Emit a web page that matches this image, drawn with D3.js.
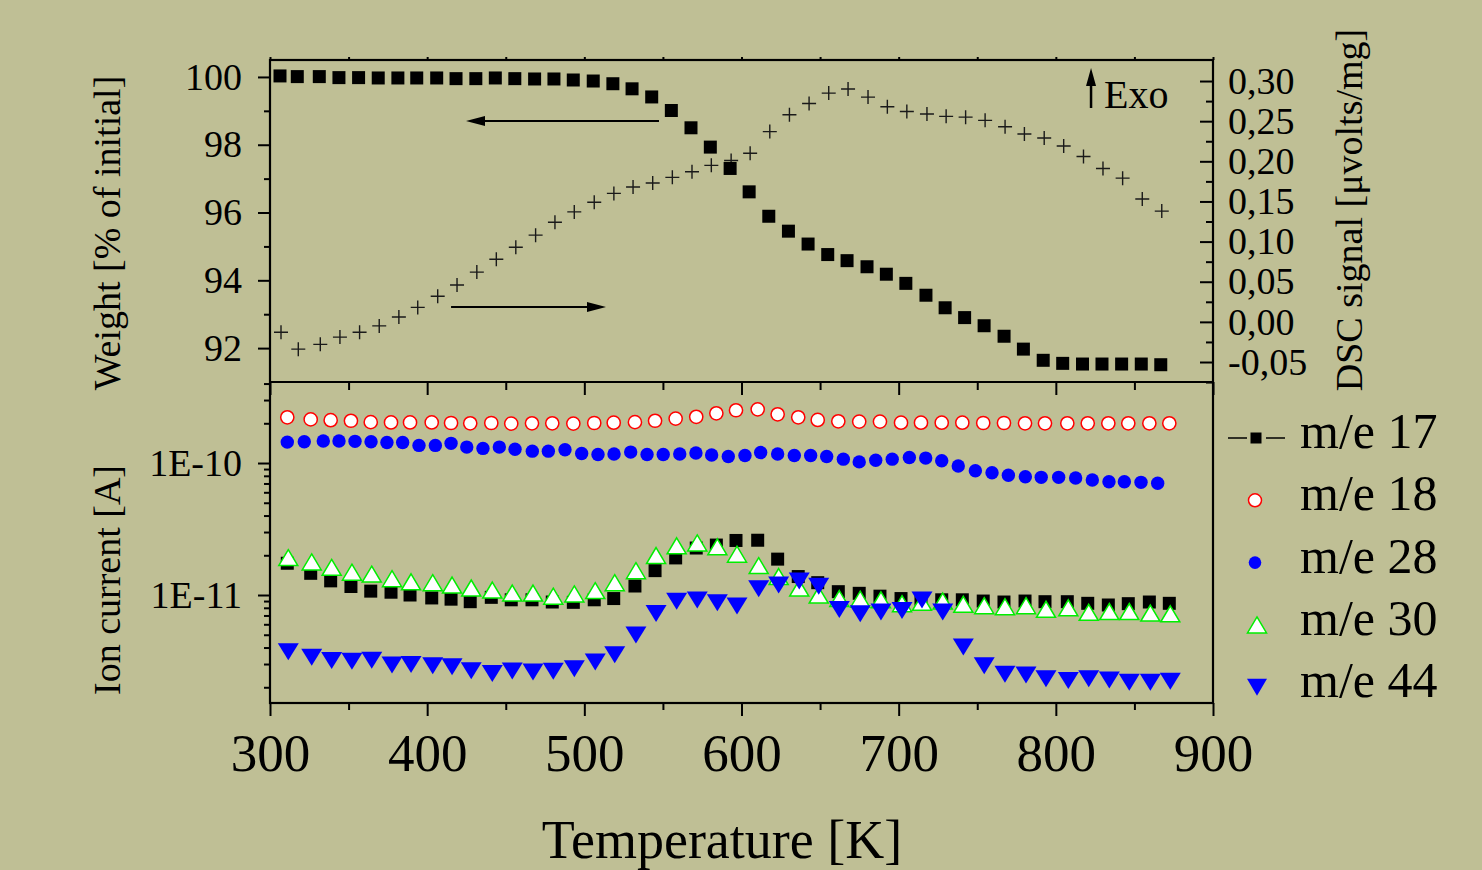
<!DOCTYPE html>
<html>
<head>
<meta charset="utf-8">
<script src="https://cdn.jsdelivr.net/npm/d3@7/dist/d3.min.js"></script>
<style>
  html, body { margin: 0; padding: 0; background: #bfbf95; }
  svg { display: block; }
  text { font-family: "Liberation Serif", "Times New Roman", serif; fill: #000; }
</style>
</head>
<body>
<svg id="chart" width="1482" height="870"></svg>
<script>
// ---------------- DATA ----------------
// Top panel (TG / DSC)
const tempTop = [307, 318, 332, 344.5, 357, 369.5, 382, 394, 406.7, 419, 431.6, 444, 456.4, 469, 481.3, 493.6, 506.3, 518.8, 531, 543.5, 556, 568.5, 580.8, 593.4, 605.5, 618, 630.5, 643, 655.5, 667.8, 680.5, 692.8, 705.2, 718, 730.2, 742.6, 755, 767.7, 780, 792.6, 805, 817.6, 830, 842.5, 855, 867.4];
const weight = [100.03, 100.01, 100.01, 99.98, 99.98, 99.97, 99.97, 99.97, 99.97, 99.95, 99.95, 99.97, 99.95, 99.94, 99.94, 99.91, 99.88, 99.80, 99.65, 99.41, 99.01, 98.50, 97.93, 97.30, 96.61, 95.89, 95.45, 95.07, 94.76, 94.58, 94.40, 94.18, 93.91, 93.56, 93.19, 92.90, 92.66, 92.35, 91.97, 91.64, 91.55, 91.53, 91.53, 91.53, 91.53, 91.51];
const dsc = [-0.013, -0.034, -0.028, -0.019, -0.013, -0.005, 0.006, 0.018, 0.032, 0.046, 0.062, 0.078, 0.093, 0.108, 0.124, 0.137, 0.149, 0.160, 0.168, 0.173, 0.180, 0.187, 0.195, 0.201, 0.210, 0.237, 0.258, 0.272, 0.285, 0.290, 0.280, 0.268, 0.262, 0.259, 0.256, 0.255, 0.251, 0.243, 0.234, 0.229, 0.219, 0.206, 0.191, 0.179, 0.153, 0.138];

// Bottom panel (mass spectrometry)
const tempMS = [311.0, 325.9, 338.6, 351.5, 364.1, 377.0, 389.1, 402.9, 415.2, 427.4, 440.8, 453.5, 466.7, 479.6, 493.0, 506.3, 518.7, 532.2, 545.0, 558.1, 571.2, 584.0, 596.5, 610.3, 623.0, 636.1, 648.5, 661.6, 674.9, 688.1, 701.5, 714.2, 727.4, 740.5, 753.8, 767.0, 780.4, 793.1, 807.3, 820.3, 833.4, 846.1, 859.5, 872.2];
const me17 = [1.74e-11, 1.46e-11, 1.28e-11, 1.16e-11, 1.07e-11, 1.05e-11, 1.0e-11, 9.5e-12, 9.3e-12, 8.9e-12, 9.6e-12, 9.2e-12, 9.2e-12, 8.85e-12, 8.8e-12, 9.2e-12, 9.4e-12, 1.17e-11, 1.53e-11, 1.91e-11, 2.27e-11, 2.39e-11, 2.59e-11, 2.6e-11, 1.87e-11, 1.38e-11, 1.24e-11, 1.06e-11, 1.03e-11, 9.8e-12, 9.4e-12, 9.3e-12, 9.2e-12, 9.2e-12, 9.0e-12, 8.85e-12, 9.0e-12, 8.9e-12, 8.9e-12, 8.65e-12, 8.4e-12, 8.6e-12, 8.85e-12, 8.65e-12];
const me18 = [2.22e-10, 2.14e-10, 2.11e-10, 2.09e-10, 2.04e-10, 2.03e-10, 2.03e-10, 2.03e-10, 2.01e-10, 2.0e-10, 2.01e-10, 1.99e-10, 2.0e-10, 2.0e-10, 1.99e-10, 2.01e-10, 2.02e-10, 2.04e-10, 2.09e-10, 2.17e-10, 2.24e-10, 2.38e-10, 2.51e-10, 2.55e-10, 2.34e-10, 2.22e-10, 2.12e-10, 2.07e-10, 2.06e-10, 2.06e-10, 2.02e-10, 2.02e-10, 2.02e-10, 2.02e-10, 2.01e-10, 2.01e-10, 2.0e-10, 2.0e-10, 2.0e-10, 2.0e-10, 2.0e-10, 2.0e-10, 2.0e-10, 2.0e-10];
const me30 = [1.92e-11, 1.78e-11, 1.62e-11, 1.49e-11, 1.44e-11, 1.33e-11, 1.26e-11, 1.24e-11, 1.19e-11, 1.13e-11, 1.09e-11, 1.035e-11, 1.035e-11, 9.8e-12, 1.02e-11, 1.08e-11, 1.24e-11, 1.53e-11, 1.99e-11, 2.36e-11, 2.48e-11, 2.32e-11, 2.04e-11, 1.67e-11, 1.38e-11, 1.13e-11, 1.0e-11, 9.4e-12, 9.3e-12, 9.2e-12, 8.6e-12, 8.8e-12, 9.0e-12, 8.5e-12, 8.3e-12, 8.15e-12, 8.3e-12, 7.8e-12, 8.0e-12, 7.4e-12, 7.5e-12, 7.5e-12, 7.3e-12, 7.2e-12];
const me44 = [3.72e-12, 3.38e-12, 3.19e-12, 3.15e-12, 3.21e-12, 2.95e-12, 2.98e-12, 2.91e-12, 2.86e-12, 2.67e-12, 2.54e-12, 2.66e-12, 2.61e-12, 2.64e-12, 2.76e-12, 3.11e-12, 3.53e-12, 4.98e-12, 7.24e-12, 8.97e-12, 9.17e-12, 8.73e-12, 8.25e-12, 1.116e-11, 1.191e-11, 1.277e-11, 1.166e-11, 7.77e-12, 7.2e-12, 7.43e-12, 7.63e-12, 9.17e-12, 7.43e-12, 4.04e-12, 2.91e-12, 2.51e-12, 2.48e-12, 2.32e-12, 2.25e-12, 2.32e-12, 2.27e-12, 2.18e-12, 2.18e-12, 2.22e-12];
const tempMe28 = [311.0, 321.8, 333.9, 343.9, 354.1, 364.3, 374.4, 384.4, 394.8, 405.2, 415.2, 425.2, 435.5, 445.9, 455.9, 466.9, 477.1, 487.7, 498.3, 508.7, 518.9, 529.5, 539.9, 550.2, 560.7, 571.0, 581.0, 591.6, 602.2, 612.2, 623.0, 633.6, 644.0, 654.2, 664.8, 674.9, 685.4, 695.9, 706.8, 717.2, 727.4, 737.9, 748.8, 759.4, 769.8, 780.6, 790.7, 801.8, 812.6, 823.2, 833.8, 843.6, 854.2, 864.8];
const me28 = [1.44e-10, 1.45e-10, 1.47e-10, 1.47e-10, 1.46e-10, 1.45e-10, 1.43e-10, 1.43e-10, 1.36e-10, 1.36e-10, 1.41e-10, 1.32e-10, 1.29e-10, 1.32e-10, 1.27e-10, 1.23e-10, 1.23e-10, 1.26e-10, 1.18e-10, 1.16e-10, 1.17e-10, 1.21e-10, 1.16e-10, 1.16e-10, 1.17e-10, 1.19e-10, 1.15e-10, 1.12e-10, 1.14e-10, 1.20e-10, 1.17e-10, 1.14e-10, 1.14e-10, 1.12e-10, 1.07e-10, 1.02e-10, 1.05e-10, 1.07e-10, 1.10e-10, 1.09e-10, 1.04e-10, 9.49e-11, 8.74e-11, 8.44e-11, 8.07e-11, 7.87e-11, 7.79e-11, 7.79e-11, 7.70e-11, 7.43e-11, 7.22e-11, 7.22e-11, 7.14e-11, 7.02e-11];

// Tick values / labels
const xMajorTicks = [300, 400, 500, 600, 700, 800, 900];
const xMinorTicks = [350, 450, 550, 650, 750, 850];
const weightTicks = [92, 94, 96, 98, 100];
const weightMinorTicks = [93, 95, 97, 99];
const dscTicks = [-0.05, 0.00, 0.05, 0.10, 0.15, 0.20, 0.25, 0.30];
const dscMinorTicks = [-0.075, -0.025, 0.025, 0.075, 0.125, 0.175, 0.225, 0.275];
const ionTicks = [1e-11, 1e-10];
const ionTickLabels = ["1E-11", "1E-10"];
const legendLabels = ["m/e 17", "m/e 18", "m/e 28", "m/e 30", "m/e 44"];

// Annotation arrows (data units)
const weightArrow = { from: 547.5, to: 424.7, value: 98.70 };   // points to left axis
const dscArrow = { from: 415.2, to: 513.8, value: 0.0185 };     // points to right axis
const exoArrow = { t: 822.4, from: 0.2664, to: 0.3162, label: "Exo", labelT: 831.3 };

// ---------------- LAYOUT ----------------
const L = 270, R = 1213, T1 = 60, MID = 382, B2 = 703;
const svg = d3.select("#chart");
svg.append("rect").attr("width", 1482).attr("height", 870).attr("fill", "#bfbf95");

const x = d3.scaleLinear().domain([300, 900]).range([L, R]);
const yW = d3.scaleLinear().domain([91, 100.5]).range([MID, T1]);
const yD = d3.scaleLinear().domain([-0.0749, 0.3262]).range([MID, T1]);
const yI = d3.scaleLog().domain([1.52e-12, 4.11e-10]).range([B2, MID]);

function styleAxis(g, fontSize) {
  g.select(".domain").remove();
  g.selectAll(".tick line").attr("stroke", "#000").attr("stroke-width", 2);
  g.selectAll(".tick text").attr("fill", "#000")
    .style("font-family", '"Liberation Serif", "Times New Roman", serif')
    .style("font-size", fontSize + "px");
}

// ---- X axes ----
svg.append("g").attr("transform", `translate(0,${B2})`)
  .call(d3.axisBottom(x).tickValues(xMajorTicks).tickSize(13).tickPadding(17).tickFormat(d3.format("d")))
  .call(g => styleAxis(g, 53));
svg.append("g").attr("transform", `translate(0,${B2})`)
  .call(d3.axisBottom(x).tickValues(xMinorTicks).tickSize(7).tickFormat(""))
  .call(g => styleAxis(g, 10));
svg.append("g").attr("transform", `translate(0,${MID})`)
  .call(d3.axisBottom(x).tickValues(xMajorTicks).tickSize(13).tickFormat(""))
  .call(g => styleAxis(g, 10));
svg.append("g").attr("transform", `translate(0,${MID})`)
  .call(d3.axisBottom(x).tickValues(xMinorTicks).tickSize(8).tickFormat(""))
  .call(g => styleAxis(g, 10));
svg.append("g").attr("transform", `translate(0,${T1})`)
  .call(d3.axisTop(x).tickValues(xMajorTicks.concat(xMinorTicks)).tickSize(3).tickFormat(""))
  .call(g => styleAxis(g, 10));

// ---- Weight axis (left, top panel) ----
svg.append("g").attr("transform", `translate(${L},0)`)
  .call(d3.axisLeft(yW).tickValues(weightTicks).tickSize(12).tickPadding(16).tickFormat(d3.format("d")))
  .call(g => styleAxis(g, 38));
svg.append("g").attr("transform", `translate(${L},0)`)
  .call(d3.axisLeft(yW).tickValues(weightMinorTicks).tickSize(6).tickFormat(""))
  .call(g => styleAxis(g, 10));

// ---- DSC axis (right, inward ticks) ----
svg.append("g").attr("transform", `translate(${R},0)`)
  .call(d3.axisRight(yD).tickValues(dscTicks).tickSizeInner(-13).tickSizeOuter(0).tickPadding(15)
    .tickFormat(v => v.toFixed(2).replace(".", ",")))
  .call(g => styleAxis(g, 38));
svg.append("g").attr("transform", `translate(${R},0)`)
  .call(d3.axisRight(yD).tickValues(dscMinorTicks).tickSizeInner(-7).tickSizeOuter(0).tickFormat(""))
  .call(g => styleAxis(g, 10));

// ---- Ion current axis (left, log) ----
const ionMinor = [];
[1e-12, 1e-11, 1e-10].forEach(dec => {
  for (let k = 2; k <= 9; k++) {
    const v = k * dec;
    if (v > yI.domain()[0] && v < yI.domain()[1]) ionMinor.push(v);
  }
});
svg.append("g").attr("transform", `translate(${L},0)`)
  .call(d3.axisLeft(yI).tickValues(ionTicks).tickSize(12).tickPadding(16)
    .tickFormat((d, i) => ionTickLabels[i]))
  .call(g => styleAxis(g, 38));
svg.append("g").attr("transform", `translate(${L},0)`)
  .call(d3.axisLeft(yI).tickValues(ionMinor).tickSize(6).tickFormat(""))
  .call(g => styleAxis(g, 10));

// ---- Frame ----
const frame = svg.append("g").attr("stroke", "#000").attr("stroke-width", 2.2).attr("fill", "none");
frame.append("rect").attr("x", L).attr("y", T1).attr("width", R - L).attr("height", B2 - T1);
frame.append("line").attr("x1", L).attr("x2", R).attr("y1", MID).attr("y2", MID);

// ---- Axis titles ----
svg.append("text").attr("transform", `translate(120,233) rotate(-90)`)
  .attr("text-anchor", "middle").style("font-size", "38px").text("Weight [% of initial]");
svg.append("text").attr("transform", `translate(120,580) rotate(-90)`)
  .attr("text-anchor", "middle").style("font-size", "38px").text("Ion current [A]");
svg.append("text").attr("transform", `translate(1362,210) rotate(-90)`)
  .attr("text-anchor", "middle").style("font-size", "38px").text("DSC signal [\u03bcvolts/mg]");
svg.append("text").attr("x", 722).attr("y", 858)
  .attr("text-anchor", "middle").style("font-size", "54px").text("Temperature [K]");

// ---------------- MARKS ----------------
const sq = s => `M${-s/2},${-s/2}h${s}v${s}h${-s}Z`;
const plus = s => `M${-s/2},0H${s/2}M0,${-s/2}V${s/2}`;
const triUp = (w, h) => `M0,${-h/2}L${w/2},${h/2}L${-w/2},${h/2}Z`;
const triDown = (w, h) => `M${-w/2},${-h/2}L${w/2},${-h/2}L0,${h/2}Z`;

svg.append("g").selectAll("path").data(tempTop).join("path")
  .attr("transform", (t, i) => `translate(${x(t)},${yD(dsc[i])})`)
  .attr("d", plus(14)).attr("stroke", "#1a1a1a").attr("stroke-width", 1.4).attr("fill", "none");
svg.append("g").selectAll("path").data(tempTop).join("path")
  .attr("transform", (t, i) => `translate(${x(t) - 1},${yW(weight[i])})`)
  .attr("d", sq(13)).attr("fill", "#000");

svg.append("g").selectAll("path").data(tempMS).join("path")
  .attr("transform", (t, i) => `translate(${x(t)},${yI(me17[i])})`)
  .attr("d", sq(13)).attr("fill", "#000");
svg.append("g").selectAll("circle").data(tempMS).join("circle")
  .attr("cx", t => x(t)).attr("cy", (t, i) => yI(me18[i])).attr("r", 6.6)
  .attr("fill", "#fff").attr("stroke", "#ff0000").attr("stroke-width", 1.5);
svg.append("g").selectAll("circle").data(tempMe28).join("circle")
  .attr("cx", t => x(t)).attr("cy", (t, i) => yI(me28[i])).attr("r", 6.7)
  .attr("fill", "#0000ff");
svg.append("g").selectAll("path").data(tempMS).join("path")
  .attr("transform", (t, i) => `translate(${x(t) + 1},${yI(me30[i])})`)
  .attr("d", triUp(19, 16)).attr("fill", "#fff").attr("stroke", "#00ee00").attr("stroke-width", 1.5);
svg.append("g").selectAll("path").data(tempMS).join("path")
  .attr("transform", (t, i) => `translate(${x(t) + 1},${yI(me44[i])})`)
  .attr("d", triDown(21, 17)).attr("fill", "#0000ff");

// ---------------- ANNOTATIONS ----------------
const ann = svg.append("g");
function hArrow(x1, x2, y) {
  const dir = Math.sign(x2 - x1);
  ann.append("line").attr("x1", x1).attr("x2", x2 - dir * 14).attr("y1", y).attr("y2", y)
    .attr("stroke", "#000").attr("stroke-width", 2);
  ann.append("path").attr("d", `M${x2},${y}L${x2 - dir * 19},${y - 5}L${x2 - dir * 19},${y + 5}Z`).attr("fill", "#000");
}
hArrow(x(weightArrow.from), x(weightArrow.to), yW(weightArrow.value));
hArrow(x(dscArrow.from), x(dscArrow.to), yD(dscArrow.value));
{
  const ex = x(exoArrow.t), y1 = yD(exoArrow.from), y2 = yD(exoArrow.to);
  ann.append("line").attr("x1", ex).attr("x2", ex).attr("y1", y1).attr("y2", y2 + 14)
    .attr("stroke", "#000").attr("stroke-width", 2.5);
  ann.append("path").attr("d", `M${ex},${y2}L${ex - 5},${y2 + 18}L${ex + 5},${y2 + 18}Z`).attr("fill", "#000");
  ann.append("text").attr("x", x(exoArrow.labelT) - 1).attr("y", yD(exoArrow.from))
    .style("font-size", "40px").text(exoArrow.label);
}

// ---------------- LEGEND ----------------
const lg = svg.append("g");
const legX = 1255, legTextX = 1300, legY0 = 448, legDy = 62.3;
legendLabels.forEach((lab, i) => {
  const by = legY0 + i * legDy;
  const sy = by - 10;
  lg.append("text").attr("x", legTextX).attr("y", by).style("font-size", "50px").text(lab);
  if (i === 0) {
    lg.append("line").attr("x1", 1228).attr("x2", 1247).attr("y1", sy).attr("y2", sy).attr("stroke", "#000").attr("stroke-width", 1.5);
    lg.append("line").attr("x1", 1266).attr("x2", 1285).attr("y1", sy).attr("y2", sy).attr("stroke", "#000").attr("stroke-width", 1.5);
    lg.append("path").attr("transform", `translate(${legX + 1},${sy})`).attr("d", sq(11)).attr("fill", "#000");
  } else if (i === 1) {
    lg.append("circle").attr("cx", legX).attr("cy", sy).attr("r", 6.5).attr("fill", "#fff").attr("stroke", "#ff0000").attr("stroke-width", 1.5);
  } else if (i === 2) {
    lg.append("circle").attr("cx", legX).attr("cy", sy).attr("r", 6.3).attr("fill", "#0000ff");
  } else if (i === 3) {
    lg.append("path").attr("transform", `translate(${legX + 2},${sy})`).attr("d", triUp(19, 16)).attr("fill", "#fff").attr("stroke", "#00ee00").attr("stroke-width", 1.5);
  } else {
    lg.append("path").attr("transform", `translate(${legX + 2},${sy})`).attr("d", triDown(20, 17)).attr("fill", "#0000ff");
  }
});
</script>
</body>
</html>
